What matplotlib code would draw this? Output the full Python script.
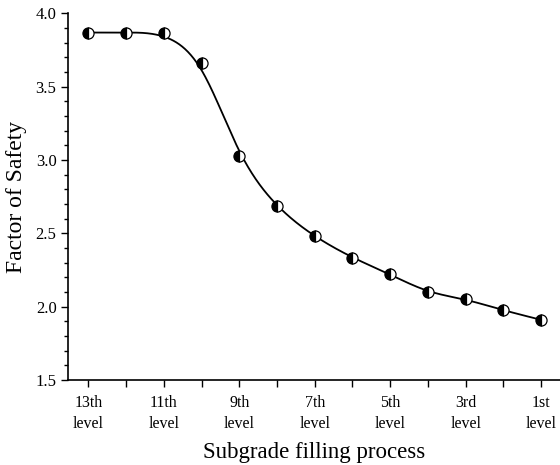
import numpy as np
import matplotlib
matplotlib.use('Agg')
import matplotlib.pyplot as plt
from matplotlib.ticker import MultipleLocator

plt.rcParams['font.family'] = ['Liberation Serif', 'DejaVu Serif']

# data
stages = ['13th\nlevel', '', '11th\nlevel', '', '9th\nlevel', '', '7th\nlevel', '',
          '5th\nlevel', '', '3rd\nlevel', '', '1st\nlevel']
fos = [3.87, 3.87, 3.865, 3.66, 3.03, 2.685, 2.48, 2.335, 2.22, 2.10, 2.05, 1.975, 1.91]


def smooth_curve(y, n=40):
    # uniform cubic b-spline, control points nudged so it runs close to the data
    p = np.asarray(y, float)
    p = np.concatenate([[2 * p[0] - p[1]], p, [2 * p[-1] - p[-2]]])
    bp = p.copy()
    bp[1:-1] = (p[:-2] + 4 * p[1:-1] + p[2:]) / 6
    q = p + 0.6 * (p - bp)
    q = np.minimum(q, max(y))  # no bump above the flat start
    q[0] = 2 * q[1] - q[2]
    q[-1] = 2 * q[-2] - q[-3]
    xs, ys = [], []
    t = np.linspace(0, 1, n)
    for i in range(1, len(q) - 2):
        b0 = (1 - t) ** 3
        b1 = 3 * t ** 3 - 6 * t ** 2 + 4
        b2 = -3 * t ** 3 + 3 * t ** 2 + 3 * t + 1
        b3 = t ** 3
        ys.append((b0 * q[i - 1] + b1 * q[i] + b2 * q[i + 1] + b3 * q[i + 2]) / 6)
        xs.append(i - 1 + t)
    return np.concatenate(xs), np.concatenate(ys)


x = np.arange(len(fos))
cx, cy = smooth_curve(fos)

fig = plt.figure(figsize=(5.6, 4.65), dpi=100)
ax = fig.add_axes([0.122, 0.183, 0.878, 0.788])

ax.plot(cx, cy, color='black', lw=1.3, zorder=2)
ax.plot(x, fos, ls='none', marker='o', ms=8, fillstyle='left',
        markerfacecolor='black', markerfacecoloralt='white',
        markeredgecolor='black', markeredgewidth=0.9, zorder=3)

ax.set_xlim(-0.53, 12.5)
ax.set_ylim(1.5, 4.0)
ax.set_xticks(x)
ax.set_xticklabels(stages, fontsize=11.5, linespacing=1.4)
ax.yaxis.set_major_locator(MultipleLocator(0.5))
ax.yaxis.set_minor_locator(MultipleLocator(0.1))
ax.tick_params(axis='y', labelsize=12, length=5, width=1)
ax.tick_params(axis='y', which='minor', length=3, width=1)
ax.tick_params(axis='x', length=5, width=1, pad=6)

ax.spines['top'].set_visible(False)
ax.spines['right'].set_visible(False)
ax.spines['left'].set_linewidth(1.2)
ax.spines['bottom'].set_linewidth(1.2)

ax.set_xlabel('Subgrade filling process', fontsize=16.5, labelpad=7)
ax.set_ylabel('Factor of Safety', fontsize=17, labelpad=6)

fig.savefig('out.png', dpi=100)
